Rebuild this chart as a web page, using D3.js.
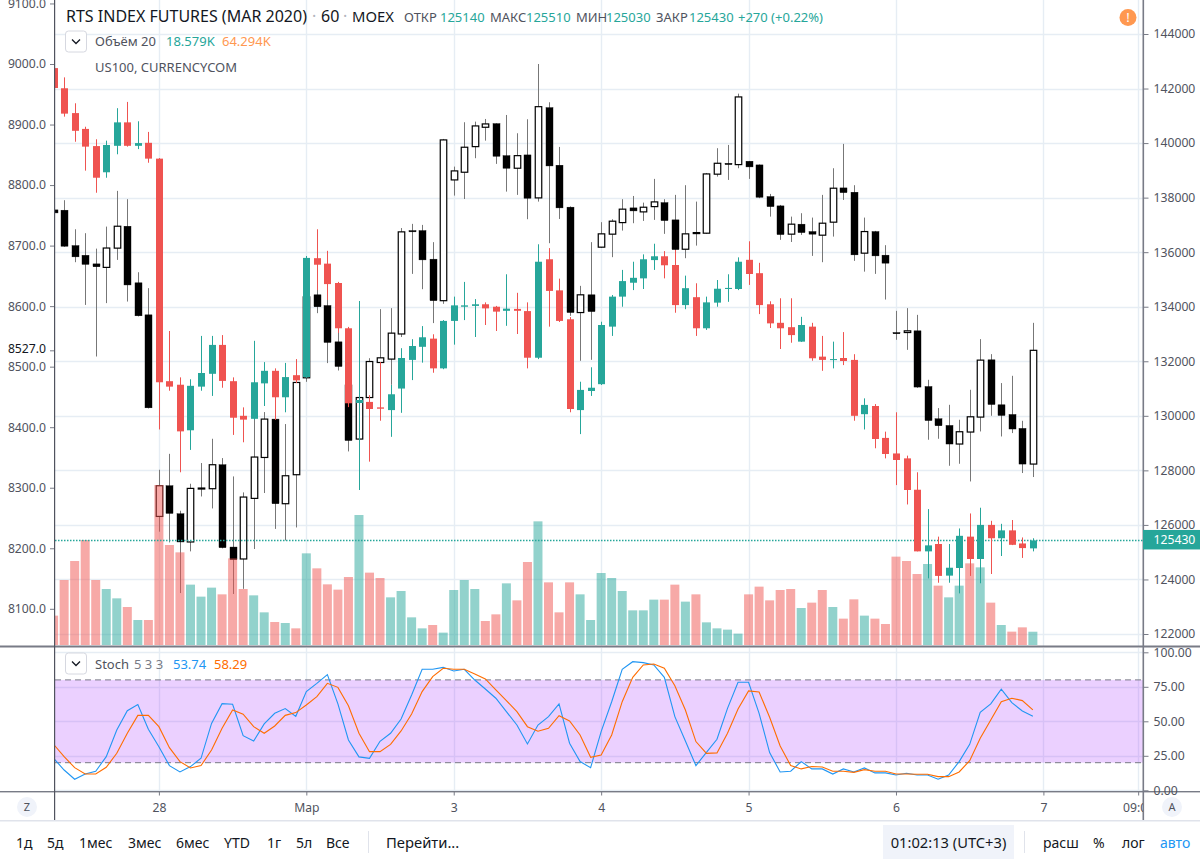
<!DOCTYPE html>
<html><head><meta charset="utf-8">
<script src="https://d3js.org/d3.v7.min.js"></script>
<style>html,body{margin:0;padding:0;background:#fff;overflow:hidden}svg{display:block}text{font-family:"Noto Sans",sans-serif}</style>
</head><body><svg id="c" width="1200" height="859"></svg>
<script>
const rtsOpen=[142750,142010,141100,140520,139890,138930,139900,140760,139900,140010,
139430,131270,131140,129470,131070,131540,132600,131270,130000,129890,
131190,131650,130680,131490,131420,135780,135580,134870,133210,130470,
130510,130310,130210,131000,132050,132530,132830,131740,133480,134000,
134030,134090,134000,133850,133920,133840,132130,135740,134600,133540,
130210,130910,131160,133270,134370,134880,135040,135710,135850,135530,
134060,134350,133210,134150,134650,134650,135720,135230,134090,133410,
133250,132720,133270,132170,132050,132120,132050,130060,130360,129190,
128620,128440,127290,125030,125300,124140,124420,125570,124750,126000,
125510,125800,125320,125140];
const rtsHigh=[142830,142410,141460,140600,140140,140090,141280,141510,140800,140410,
139450,133110,131410,131340,132930,132930,132960,131410,130310,132750,
131970,131740,131940,132080,135860,136840,136050,134910,133260,134210,
130760,131970,131130,132480,132810,133290,132990,133510,134370,134910,
134280,134160,134030,135190,134510,134160,136290,136150,135030,133620,
131250,131780,133450,134430,135350,135650,135920,136310,136040,136080,
135140,134860,134370,134980,135190,135810,136400,135610,134200,134310,
134310,133630,133410,132930,132720,133070,132260,130640,130430,129420,
130130,128540,127930,126580,125570,125300,125870,126420,126630,126150,
126040,126180,125540,125510];
const rtsLow=[141950,140970,140050,138990,138180,138730,139590,139870,139780,139280,
129500,130920,127930,128750,130920,130730,131030,129300,129030,129850,
130360,129850,130130,131200,131390,134610,134250,133040,130320,127280,
128320,129820,129230,130110,131310,131950,131580,131710,132610,133510,
132890,133330,133110,133300,133000,131740,132080,133270,133440,130130,
129330,130730,131130,132930,134000,134610,134650,135350,135040,133780,
133910,132930,133150,134000,134180,134610,134800,133730,133220,132450,
132680,132710,132020,131650,131740,131860,129820,129500,128810,128440,
127460,126750,125030,124040,123880,123880,123490,124130,123860,124200,
124860,125260,124790,125030];
const rtsClose=[142020,141080,140450,139870,138730,139930,140760,139900,140000,139430,
131230,131070,129430,131100,131570,132600,131280,129930,129860,131230,
131650,130680,131420,131300,135790,135540,134830,133210,130460,130580,
130250,130260,130790,132120,132560,132880,131740,133480,134050,134050,
134090,133940,133820,133930,133850,132130,135650,134580,133480,130250,
130950,131030,133330,134370,134940,135060,135740,135850,135520,134060,
134680,133210,134160,134660,134690,135650,135200,134060,133390,133210,
132960,133330,132110,132050,132080,132010,130000,130400,129150,128600,
128380,127280,125030,125250,124130,124430,125600,124750,126000,125510,
125800,125270,125150,125430];
const usOpen=[8759,8758.5,8700,8684,8669.8,8664,8695.8,8732,8638.5,8585.6,
8252.6,8303.3,8257,8210.4,8298.4,8298.4,8338,8202,8182.3,8282.4,
8350,8413.4,8273.6,8321.5,8481.6,8618.7,8601,8541,8470,8380.4,
8449,8506.9,8512.5,8554,8724.8,8724.8,8677.6,8609,8808.5,8821.2,
8863.5,8895.5,8901.5,8848.6,8827.8,8849.8,8778.8,8927.9,8832.8,8763.5,
8589.4,8618.7,8697.4,8718.9,8738,8762.3,8755.7,8764.4,8771,8742.5,
8694,8719.9,8720.5,8818,8836,8833.8,8839.4,8833.3,8781,8765.6,
8718.9,8735.4,8723.2,8717.2,8738.7,8795.3,8788.2,8687.5,8723.2,8684.2,
8556.4,8556.4,8559.2,8467.2,8413.9,8402.9,8372.2,8392,8416.7,8511.3,
8437,8421,8398,8339.1];
const usHigh=[8762.3,8775,8727,8720.5,8695,8731.4,8790.4,8776.7,8656,8629.7,
8329.7,8356,8262,8306.6,8340.8,8380.9,8349,8318.7,8292.3,8413.4,
8425,8426,8405.2,8478,8627,8669.8,8636.8,8558,8478,8452,
8514,8595,8596.7,8729,8735.9,8734.2,8705.7,8876.2,8830.5,8903.8,
8904.8,8909.2,8902,8915.8,8885.6,8908.7,9000,8936.8,8863,8764.8,
8633.5,8705.7,8738.7,8743.6,8776.7,8782,8771,8810.2,8776.7,8783.8,
8799.8,8772.7,8820,8860.9,8866.3,8951,8839.9,8834,8785.4,8767.2,
8747.9,8753.5,8746.3,8783.8,8827.8,8868,8799.8,8746.3,8724.3,8700.7,
8592.2,8596.7,8585.6,8478.3,8431.6,8437,8412.3,8461.8,8545.5,8520.7,
8472.9,8484.9,8410.6,8572.4];
const usLow=[8751,8698,8672.6,8602,8516.8,8605,8676.4,8607.6,8583,8431,
8227.4,8209.7,8126,8194.9,8285.6,8265.8,8199.8,8124.5,8133,8198.8,
8291.3,8232,8213,8234.4,8475,8588.4,8505.9,8493.7,8360,8379,
8442,8494.8,8470,8549,8653.3,8628,8572,8603.8,8782.6,8777,
8844.4,8873.4,8835,8789.2,8783.8,8743.6,8772.7,8704,8744,8584,
8509.7,8511.3,8696.3,8680.9,8724.8,8737,8740.8,8742.5,8719.4,8668.2,
8679.2,8700,8719.4,8814,8808.5,8827.8,8810.2,8778.3,8747.9,8709.5,
8706,8717.7,8683,8672.6,8714.9,8775.5,8674.8,8657,8653.3,8610.9,
8544.4,8527.8,8465,8379.3,8380.9,8336.3,8339.6,8310.4,8393,8418.9,
8384.7,8390.3,8324.3,8317.7];
const usClose=[8754,8699,8681.4,8669,8665,8696,8732,8635,8584,8432,
8303.3,8257.6,8210.4,8298.9,8299.5,8338,8201,8181,8284.6,8350.7,
8413.4,8273.6,8319.8,8473.9,8615.3,8598.9,8540,8500.3,8378,8449,
8508.5,8514.6,8555.4,8722.7,8722.7,8676.4,8609,8874.6,8823.4,8862.5,
8897.7,8901,8847.6,8827.8,8848.6,8778.3,8929.5,8831.6,8762.3,8589.4,
8618.7,8591,8719.4,8740.3,8760.2,8757.3,8763.4,8772.2,8741.3,8693.4,
8719.4,8721.5,8818.4,8836,8833.8,8945.6,8830,8779.9,8764.4,8718.2,
8735.4,8721.5,8718.9,8737,8794.8,8787.5,8684.7,8723.2,8683,8671,
8554.3,8559.2,8466.3,8411,8402.4,8372.2,8392.5,8417.2,8510.8,8437.5,
8419.4,8397,8339.1,8527];
const volumeK=[41.1,91,117.6,147,91,78.4,65.3,53.2,35,35,
224,140,129.7,84.5,67.7,80.3,70.9,121.3,78.4,69.5,
45.7,32.2,30.8,23.3,128.3,107.3,84.9,77.5,95.2,182,
101.3,93.8,66.7,75.6,38.7,23.3,28,17.3,77,91,
78.4,33.6,42.9,86.3,62.5,116.2,173.1,87.7,45.7,87.7,
70.9,35,100.8,93.8,75.6,48.5,48.5,63.5,63.5,84.5,
60.7,70.9,31.7,23.3,21.5,15.9,70.9,81.7,62.5,77,
78.4,51.8,59.3,77,53.2,36.9,63.9,41.1,36.9,29.4,
123.7,117.6,99.4,113.4,83.1,66.7,83.1,114.3,108.7,59.3,
28,18.7,24.7,18.579];
const stochK=[23.2,14.7,8,11.8,13.8,24.4,43.7,57.7,62.1,44.2,
31.6,17.9,13.3,17.2,23.2,48.5,62.8,62.3,39.6,35.7,
48.1,55.8,59.2,53.6,71.5,77.5,83.8,62.6,36.5,24.2,
23.2,35.5,41.3,51.7,69.1,87.7,87.7,89.1,86.5,87.7,
79.9,73.4,66.7,57,47.3,33.6,47.3,53.4,62.6,34.1,
20.8,16.4,42.5,64.2,87.7,93.2,92.5,90.8,81.9,53.4,
35.7,17.9,27.5,37,59.4,78.3,78.3,55.8,27.3,13.3,
13.8,20.8,15.5,15.5,11.8,15.5,13.3,16.2,12.6,12.6,
11.1,12.3,11.1,11.1,8,11.1,20.8,33.3,56.5,62.6,
73.2,63.5,57.5,53.74];
const stochD=[33.3,24.4,16.4,11.8,11.8,16.7,26.8,41.3,54.3,54.3,
46.1,30.9,20.8,16.2,17.9,29.2,44.9,58.2,55.1,46.1,
41.3,46.6,54.3,56.3,61.8,67.9,77.5,74.6,61.3,41.3,
28,28,33.3,43,55.3,71.5,82.4,88.4,87.7,87.7,
84.3,80.7,72.7,65,57,46.1,42.8,44.9,54.1,50.2,
40.1,23.9,25.6,40.1,64.2,81.9,90.8,91.5,88.4,75.8,
58.2,35.3,26.8,27.1,41.3,58.9,72,71.2,52.9,32.1,
17.9,15.5,17.2,16.9,13.8,13.8,13,15,13.8,13.8,
11.8,11.8,11.6,11.6,9.9,9.9,13.3,21.5,37.7,51,
64.2,66.7,65,58.29];
const usTicks=[9100,9000,8900,8800,8700,8600,8500,8400,8300,8200,8100];
const rtsTicks=[144000,142000,140000,138000,136000,134000,132000,130000,128000,126000,124000,122000];
const stochTicks=[100,75,50,25,0];
const timeTickIndex=[10,24,38,52,66,80,94,103];
const timeTickLabels=["28","Мар","3","4","5","6","7","09:00"];
const rangeButtons=["1д","5д","1мес","3мес","6мес","YTD","1г","5л","Все"];
const rightButtons=["расш","%","лог"];
const stochBand=[20,80];
const lastPrice=125430, lastUS=8527;

const W=1200,H=859,L=55,R=1143,mainB=646,stB=791,axB=820.5;
const GREEN="#26a69a",RED="#ef5350",GRID="#e6edf4",TXT="#50535e",AX="#787b86";
const svg=d3.select("#c");
const x=d3.scaleLinear().domain([0,94]).range([53.6,1043.4]);
const yUS=d3.scaleLinear().domain([9000,8100]).range([64,608.8]);
const yRTS=d3.scaleLinear().domain([144000,122000]).range([34,634]);
const yVol=d3.scaleLinear().domain([0,280]).range([645,445]);
const yS=d3.scaleLinear().domain([100,0]).range([652.3,790.3]);
const idx=d3.range(rtsOpen.length);

svg.append("rect").attr("width",W).attr("height",H).attr("fill","#fff");
const defs=svg.append("defs");
defs.append("clipPath").attr("id","m").append("rect").attr("x",L).attr("y",0).attr("width",R-L).attr("height",mainB);
defs.append("clipPath").attr("id","s").append("rect").attr("x",L).attr("y",648).attr("width",R-L).attr("height",stB-648);
defs.append("clipPath").attr("id","t").append("rect").attr("x",L).attr("y",stB).attr("width",R-L).attr("height",axB-stB);

const main=svg.append("g").attr("clip-path","url(#m)");
// grid
main.selectAll(".gh").data(rtsTicks).join("line").attr("x1",L).attr("x2",R)
 .attr("y1",d=>Math.round(yRTS(d))+.5).attr("y2",d=>Math.round(yRTS(d))+.5).attr("stroke",GRID).attr("stroke-width",1.4);
main.selectAll(".gv").data(timeTickIndex).join("line").attr("y1",0).attr("y2",mainB)
 .attr("x1",d=>Math.round(x(d))+.5).attr("x2",d=>Math.round(x(d))+.5).attr("stroke",GRID).attr("stroke-width",1.4);

const bw=7;
function cx(i){return Math.round(x(i));}
// US100 candles
const us=main.append("g");
us.selectAll(".w").data(idx).join("rect").attr("x",i=>cx(i)).attr("width",1)
 .attr("y",i=>yUS(usHigh[i])).attr("height",i=>yUS(usLow[i])-yUS(usHigh[i])).attr("fill","#777");
us.selectAll(".b").data(idx).join("rect")
 .attr("x",i=>usClose[i]>=usOpen[i]?cx(i)-3+.25:cx(i)-3)
 .attr("width",i=>usClose[i]>=usOpen[i]?bw-.5:bw)
 .attr("y",i=>yUS(Math.max(usOpen[i],usClose[i])))
 .attr("height",i=>Math.max(1,yUS(Math.min(usOpen[i],usClose[i]))-yUS(Math.max(usOpen[i],usClose[i]))))
 .attr("fill",i=>usClose[i]>=usOpen[i]?"#fff":"#000")
 .attr("stroke","#000").attr("stroke-width",i=>usClose[i]>=usOpen[i]?1.2:0.4);
// volume
main.selectAll(".v").data(idx).join("rect")
 .attr("x",i=>x(i)-4.5).attr("width",9)
 .attr("y",i=>yVol(volumeK[i])).attr("height",i=>yVol(0)-yVol(volumeK[i]))
 .attr("fill",i=>rtsClose[i]>=rtsOpen[i]?GREEN:RED).attr("opacity",.5);
// last price line
main.append("line").attr("x1",L).attr("x2",R).attr("y1",Math.round(yRTS(lastPrice))+.5).attr("y2",Math.round(yRTS(lastPrice))+.5)
 .attr("stroke",GREEN).attr("stroke-width",1.5).attr("stroke-dasharray","1.5 1.5");
// RTS candles
const colr=i=>rtsClose[i]>=rtsOpen[i]?GREEN:RED;
main.selectAll(".rw").data(idx).join("rect").attr("x",i=>cx(i)).attr("width",1)
 .attr("y",i=>yRTS(rtsHigh[i])).attr("height",i=>yRTS(rtsLow[i])-yRTS(rtsHigh[i])).attr("fill",colr);
main.selectAll(".rb").data(idx).join("rect").attr("x",i=>cx(i)-3).attr("width",bw)
 .attr("y",i=>yRTS(Math.max(rtsOpen[i],rtsClose[i])))
 .attr("height",i=>Math.max(1,yRTS(Math.min(rtsOpen[i],rtsClose[i]))-yRTS(Math.max(rtsOpen[i],rtsClose[i]))))
 .attr("fill",colr);

// stochastic pane
const sp=svg.append("g").attr("clip-path","url(#s)");
sp.selectAll(".sg").data(stochTicks).join("line").attr("x1",L).attr("x2",R).attr("y1",d=>Math.round(yS(d))+.5).attr("y2",d=>Math.round(yS(d))+.5).attr("stroke",GRID).attr("stroke-width",1.4);
sp.selectAll(".sv").data(timeTickIndex).join("line").attr("y1",648).attr("y2",stB).attr("x1",d=>Math.round(x(d))+.5).attr("x2",d=>Math.round(x(d))+.5).attr("stroke",GRID).attr("stroke-width",1.4);
sp.append("rect").attr("x",L).attr("width",R-L).attr("y",yS(stochBand[1])).attr("height",yS(stochBand[0])-yS(stochBand[1])).attr("fill","#9915ff").attr("opacity",.2);
sp.selectAll(".sb").data(stochBand).join("line").attr("x1",L).attr("x2",R).attr("y1",d=>yS(d)).attr("y2",d=>yS(d)).attr("stroke",AX).attr("stroke-dasharray","6 4");
const ln=a=>d3.line().x(i=>x(i)).y(i=>yS(a[i]))(idx);
sp.append("path").attr("d",ln(stochK)).attr("fill","none").attr("stroke","#2196f3").attr("stroke-width",1.1);
sp.append("path").attr("d",ln(stochD)).attr("fill","none").attr("stroke","#ff6d00").attr("stroke-width",1.1);

// separators
svg.append("rect").attr("x",0).attr("y",645.5).attr("width",W).attr("height",2).attr("fill",AX);
svg.append("rect").attr("x",0).attr("y",791).attr("width",W).attr("height",1.4).attr("fill",AX);
svg.append("rect").attr("x",0).attr("y",820).attr("width",W).attr("height",1.5).attr("fill","#e0e3eb");
svg.append("rect").attr("x",54).attr("y",0).attr("width",1.2).attr("height",820).attr("fill","#50535e");
svg.append("rect").attr("x",1142.5).attr("y",0).attr("width",1.6).attr("height",820).attr("fill",AX);

// axes
function style(g){g.select(".domain").remove();g.selectAll("line").attr("stroke",AX);g.selectAll("text").attr("fill",TXT).attr("font-size",12.2).attr("font-family",'"Noto Sans",sans-serif');}
svg.append("g").attr("transform","translate(54,0)").call(d3.axisLeft(yUS).tickValues(usTicks).tickSize(4).tickPadding(4).tickFormat(d3.format(".1f"))).call(style);
svg.append("g").attr("transform","translate(54,0)").call(d3.axisLeft(yUS).tickValues([lastUS]).tickSize(4).tickPadding(4).tickFormat(d3.format(".1f"))).call(style)
 .selectAll("text").attr("fill","#131722").attr("dy",".2em");
svg.append("g").attr("transform","translate(1143.5,0)").call(d3.axisRight(yRTS).tickValues(rtsTicks).tickSize(5).tickPadding(5).tickFormat(d3.format("d"))).call(style);
svg.append("g").attr("transform","translate(1143.5,0)").call(d3.axisRight(yS).tickValues(stochTicks).tickSize(5).tickPadding(5).tickFormat(d3.format(".2f"))).call(style);
const tg=svg.append("g").attr("clip-path","url(#t)");
tg.append("g").attr("transform","translate(0,791.5)").call(d3.axisBottom(x).tickValues(timeTickIndex).tickSize(4).tickPadding(8).tickFormat((d,i)=>timeTickLabels[i])).call(style);

// price label
svg.append("rect").attr("x",1143).attr("y",yRTS(lastPrice)-10.5).attr("width",57).attr("height",19.5).attr("fill",GREEN);
svg.append("text").attr("x",1153.5).attr("y",yRTS(lastPrice)+4).attr("fill","#fff").attr("font-size",12.2).text(lastPrice);

// header
function txt(x0,y0,s,fs,fill,anchor,weight){return svg.append("text").attr("x",x0).attr("y",y0).attr("font-size",fs).attr("fill",fill).attr("text-anchor",anchor||"start").attr("font-weight",weight||400).text(s);}
txt(66,22,"RTS INDEX FUTURES (MAR 2020)",16,"#131722");
txt(312,22,"·",16,"#b2b5be");txt(321,22,"60",16,"#131722");txt(343,22,"·",16,"#b2b5be");txt(352,22,"MOEX",14.8,"#131722");
const ohlc=[["ОТКР",404,"125140",440],["МАКС",490,"125510",526],["МИН",576,"125030",606],["ЗАКР",656,"125430",689]];
ohlc.forEach(o=>{txt(o[1],22,o[0],13,TXT);txt(o[3],22,o[2],13,GREEN);});
txt(738,22,"+270 (+0.22%)",13,GREEN);
// info icon
svg.append("circle").attr("cx",1128).attr("cy",17.5).attr("r",8.5).attr("fill","#ff9850");
txt(1128,22,"!",13,"#fff","middle");
// legends
function chev(y0){
 svg.append("rect").attr("x",65.5).attr("y",y0).attr("width",21).attr("height",21).attr("rx",3).attr("fill","#fff").attr("stroke","#d6d8e0");
 svg.append("path").attr("d",`M72 ${y0+8.5}L76 ${y0+12.5}L80 ${y0+8.5}`).attr("fill","none").attr("stroke","#131722").attr("stroke-width",1.3);
}
chev(31);chev(653);
txt(95,46,"Объём",13,TXT);txt(141,46,"20",13,TXT);txt(166,46,"18.579K",13,GREEN);txt(222,46,"64.294K",13,"#ff9850");
txt(95,72,"US100, CURRENCYCOM",13,TXT);
txt(95,668.5,"Stoch",13,TXT);txt(134,668.5,"5 3 3",13,AX);txt(173,668.5,"53.74",13,"#2196f3");txt(214,668.5,"58.29",13,"#ff6d00");
// Z / A buttons
svg.append("circle").attr("cx",27).attr("cy",807).attr("r",10).attr("fill","#f0f3fa");txt(27,811,"Z",11,TXT,"middle");
svg.append("circle").attr("cx",1172).attr("cy",807).attr("r",10).attr("fill","#f0f3fa");txt(1172,811,"A",11,TXT,"middle");
// bottom bar
const btnX=[16,47,79,128,176,224,267,296,326];
rangeButtons.forEach((b,i)=>txt(btnX[i],848,b,14,"#131722"));
svg.append("rect").attr("x",368).attr("y",831).attr("width",1).attr("height",22).attr("fill","#e0e3eb");
txt(386,848,"Перейти...",14.8,"#131722");
svg.append("rect").attr("x",883).attr("y",825).attr("width",131).attr("height",34).attr("fill","#f0f3fa");
txt(948.5,848,"01:02:13 (UTC+3)",14.7,"#131722","middle");
svg.append("rect").attr("x",1024).attr("y",831).attr("width",1).attr("height",22).attr("fill","#e0e3eb");
const rx=[1043,1093,1122];
rightButtons.forEach((b,i)=>txt(rx[i],848,b,14,"#131722"));
txt(1160,848,"авто",14,"#2196f3");
</script></body></html>
